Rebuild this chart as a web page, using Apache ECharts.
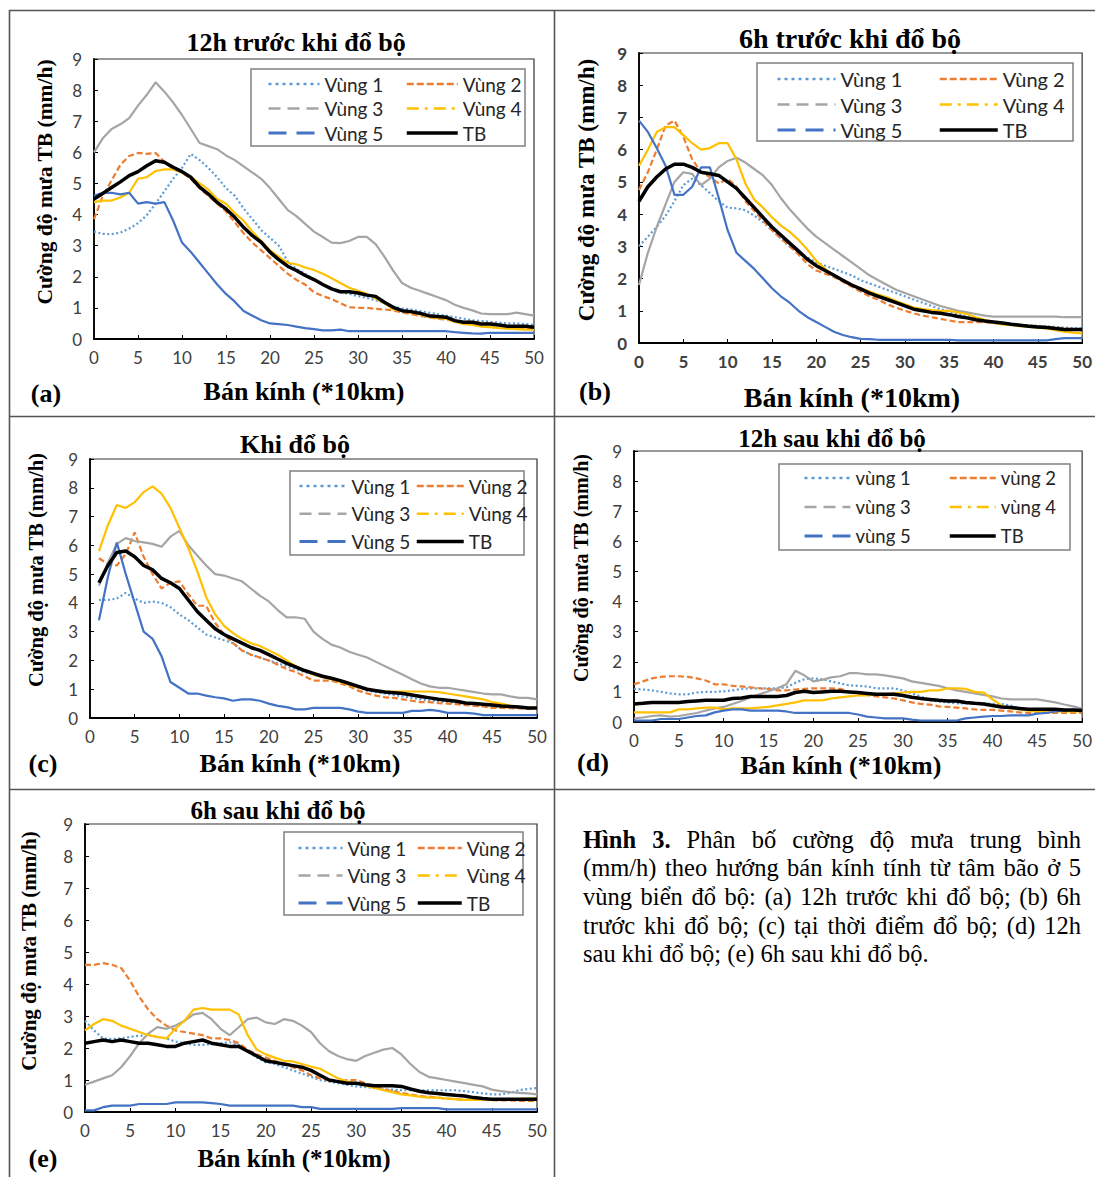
<!DOCTYPE html>
<html><head><meta charset="utf-8">
<script src="https://cdn.jsdelivr.net/npm/echarts@6/dist/echarts.min.js"></script>
<style>html,body{margin:0;padding:0;background:#fff}#c{width:1095px;height:1177px}</style>
</head><body><div id="c"></div><script>
// ---------------- DATA ----------------
const R_FULL = [0,1,2,3,4,5,6,7,8,9,10,11,12,13,14,15,16,17,18,19,20,21,22,23,24,25,26,27,28,29,30,31,32,33,34,35,36,37,38,39,40,41,42,43,44,45,46,47,48,49,50];
const R_C = [1,2,3,4,5,6,7,8,9,10,11,12,13,14,15,16,17,18,19,20,21,22,23,24,25,26,27,28,29,30,31,32,33,34,35,36,37,38,39,40,41,42,43,44,45,46,47,48,49,50];
const X_TICKS = [0,5,10,15,20,25,30,35,40,45,50];
const Y_TICKS = [0,1,2,3,4,5,6,7,8,9];
const NAMES_CAP = ['Vùng 1','Vùng 2','Vùng 3','Vùng 4','Vùng 5','TB'];
const NAMES_LOW = ['vùng 1','vùng 2','vùng 3','vùng 4','vùng 5','TB'];
const PANEL_TITLES = ['12h trước khi đổ bộ','6h trước khi đổ bộ','Khi đổ bộ','12h sau khi đổ bộ','6h sau khi đổ bộ'];
const PANEL_TAGS = ['(a)','(b)','(c)','(d)','(e)'];
const X_NAME = 'Bán kính (*10km)';
const Y_NAME = 'Cường độ mưa TB (mm/h)';

// (a) 12h trước khi đổ bộ
const A_V1 = [3.45,3.38,3.37,3.42,3.55,3.72,3.98,4.35,4.75,5.15,5.5,5.95,5.75,5.5,5.2,4.85,4.6,4.2,3.85,3.5,3.25,3.0,2.5,2.25,2.1,1.92,1.75,1.6,1.5,1.45,1.38,1.32,1.25,1.15,1.05,0.98,0.95,0.9,0.85,0.8,0.75,0.7,0.65,0.6,0.58,0.55,0.53,0.5,0.5,0.48,0.45];
const A_V2 = [3.85,4.6,5.1,5.6,5.88,5.98,5.95,5.98,5.7,5.45,5.35,5.15,4.85,4.6,4.35,4.1,3.75,3.4,3.1,2.85,2.6,2.35,2.1,1.9,1.75,1.5,1.38,1.28,1.15,1.02,1.0,1.0,0.97,0.95,0.92,0.85,0.8,0.75,0.7,0.65,0.62,0.58,0.55,0.55,0.52,0.5,0.48,0.4,0.35,0.33,0.32];
const A_V3 = [6.0,6.45,6.75,6.9,7.1,7.5,7.85,8.25,7.95,7.6,7.2,6.75,6.3,6.2,6.1,5.9,5.75,5.55,5.35,5.15,4.85,4.5,4.15,3.95,3.7,3.45,3.28,3.1,3.08,3.15,3.28,3.28,3.05,2.65,2.2,1.8,1.65,1.55,1.45,1.35,1.25,1.1,1.0,0.92,0.82,0.8,0.8,0.8,0.85,0.8,0.75];
const A_V4 = [4.4,4.45,4.45,4.55,4.7,5.15,5.2,5.4,5.45,5.45,5.35,5.2,5.0,4.8,4.5,4.35,4.05,3.8,3.45,3.15,2.85,2.65,2.45,2.4,2.3,2.22,2.1,1.95,1.8,1.65,1.55,1.45,1.3,1.15,0.95,0.9,0.85,0.8,0.72,0.68,0.65,0.55,0.48,0.45,0.4,0.38,0.35,0.33,0.32,0.3,0.3];
const A_V5 = [4.6,4.7,4.7,4.65,4.7,4.35,4.4,4.35,4.4,3.8,3.1,2.8,2.45,2.1,1.75,1.45,1.2,0.9,0.75,0.6,0.5,0.48,0.45,0.4,0.35,0.32,0.28,0.28,0.3,0.25,0.25,0.25,0.25,0.25,0.25,0.25,0.25,0.25,0.25,0.25,0.25,0.22,0.2,0.18,0.17,0.2,0.2,0.2,0.2,0.2,0.2];
const A_TB = [4.5,4.68,4.87,5.05,5.25,5.38,5.57,5.73,5.68,5.52,5.38,5.2,4.88,4.66,4.39,4.18,3.91,3.59,3.32,3.11,2.79,2.55,2.34,2.2,2.04,1.91,1.75,1.61,1.52,1.52,1.48,1.41,1.37,1.18,1.02,0.91,0.88,0.83,0.75,0.72,0.7,0.59,0.54,0.54,0.48,0.48,0.45,0.41,0.41,0.41,0.38];

// (b) 6h trước khi đổ bộ
const B_V1 = [3.0,3.3,3.6,3.95,4.4,4.9,5.1,4.9,4.65,4.4,4.2,4.18,4.12,3.95,3.75,3.5,3.25,3.0,2.8,2.65,2.5,2.4,2.3,2.2,2.1,1.95,1.85,1.75,1.65,1.55,1.45,1.35,1.25,1.15,1.05,0.98,0.9,0.82,0.75,0.7,0.65,0.6,0.58,0.56,0.55,0.53,0.52,0.5,0.48,0.46,0.45];
const B_V2 = [4.75,5.3,6.0,6.75,6.9,6.4,5.7,5.3,5.15,4.95,5.1,4.85,4.4,4.1,3.8,3.5,3.25,3.0,2.75,2.45,2.25,2.15,2.05,1.9,1.75,1.6,1.45,1.35,1.2,1.1,1.0,0.92,0.85,0.8,0.75,0.7,0.65,0.65,0.65,0.65,0.62,0.6,0.58,0.56,0.54,0.52,0.5,0.48,0.45,0.42,0.4];
const B_V3 = [1.8,2.8,3.6,4.3,5.0,5.3,5.25,4.9,5.1,5.45,5.65,5.75,5.6,5.4,5.2,4.9,4.5,4.15,3.85,3.55,3.3,3.1,2.9,2.7,2.5,2.3,2.1,1.95,1.8,1.65,1.55,1.45,1.35,1.25,1.15,1.08,1.0,0.95,0.9,0.85,0.82,0.82,0.82,0.82,0.82,0.82,0.82,0.82,0.8,0.8,0.8];
const B_V4 = [5.5,6.0,6.55,6.7,6.7,6.45,6.2,6.0,6.05,6.2,6.2,5.7,4.95,4.45,4.2,3.9,3.65,3.45,3.2,2.9,2.55,2.3,2.1,1.95,1.8,1.7,1.6,1.5,1.42,1.3,1.2,1.1,1.05,1.02,1.0,1.0,0.95,0.9,0.8,0.72,0.62,0.58,0.55,0.52,0.5,0.48,0.45,0.4,0.35,0.32,0.3];
const B_V5 = [6.9,6.55,6.05,5.5,4.6,4.6,4.85,5.45,5.45,4.5,3.5,2.8,2.55,2.3,2.0,1.7,1.45,1.25,1.0,0.8,0.65,0.5,0.35,0.25,0.18,0.13,0.12,0.1,0.1,0.1,0.1,0.1,0.1,0.1,0.1,0.1,0.08,0.08,0.08,0.08,0.08,0.08,0.08,0.08,0.08,0.08,0.08,0.12,0.15,0.15,0.15];
const B_TB = [4.4,4.85,5.15,5.4,5.55,5.55,5.45,5.3,5.25,5.2,5.0,4.8,4.5,4.2,3.9,3.6,3.35,3.1,2.85,2.6,2.4,2.25,2.1,1.95,1.8,1.68,1.55,1.45,1.35,1.25,1.15,1.05,1.0,0.95,0.92,0.88,0.82,0.78,0.72,0.68,0.65,0.62,0.58,0.55,0.52,0.5,0.48,0.45,0.42,0.42,0.42];

// (c) Khi đổ bộ (radius 1..50)
const C_V1 = [4.1,4.1,4.15,4.35,4.15,4.0,4.05,4.0,3.85,3.6,3.4,3.15,2.9,2.8,2.7,2.6,2.35,2.2,2.1,2.0,1.9,1.8,1.7,1.6,1.5,1.45,1.35,1.25,1.15,1.05,0.95,0.9,0.85,0.8,0.75,0.7,0.65,0.6,0.58,0.55,0.52,0.48,0.45,0.42,0.4,0.38,0.37,0.36,0.35,0.35];
const C_V2 = [5.55,5.35,5.3,5.7,6.45,5.6,5.0,4.5,4.7,4.75,4.3,3.9,3.9,3.3,2.9,2.6,2.35,2.2,2.1,2.0,1.85,1.7,1.6,1.45,1.3,1.3,1.3,1.2,1.1,0.95,0.85,0.78,0.72,0.7,0.65,0.6,0.55,0.55,0.52,0.5,0.48,0.45,0.42,0.4,0.35,0.35,0.34,0.33,0.32,0.32];
const C_V3 = [4.6,5.4,6.05,6.25,6.15,6.1,6.05,5.95,6.3,6.5,6.0,5.65,5.3,5.0,4.95,4.85,4.75,4.5,4.25,4.05,3.75,3.5,3.5,3.45,3.0,2.75,2.55,2.45,2.3,2.2,2.1,1.95,1.8,1.65,1.5,1.35,1.2,1.1,1.05,1.05,1.0,0.95,0.9,0.85,0.82,0.82,0.75,0.7,0.7,0.65];
const C_V4 = [5.8,6.7,7.4,7.3,7.5,7.85,8.05,7.8,7.3,6.6,5.9,5.1,4.2,3.6,3.2,2.95,2.75,2.6,2.5,2.35,2.2,2.0,1.8,1.65,1.5,1.42,1.35,1.25,1.15,1.05,1.0,0.95,0.92,0.92,0.92,0.92,0.92,0.92,0.9,0.85,0.8,0.75,0.7,0.65,0.55,0.5,0.42,0.38,0.35,0.35];
const C_V5 = [3.4,4.9,6.1,5.0,4.0,3.0,2.75,2.15,1.25,1.05,0.85,0.85,0.78,0.72,0.68,0.6,0.65,0.65,0.6,0.5,0.42,0.38,0.3,0.3,0.35,0.35,0.35,0.35,0.3,0.22,0.18,0.18,0.18,0.18,0.18,0.25,0.25,0.28,0.25,0.18,0.18,0.18,0.15,0.1,0.1,0.1,0.1,0.1,0.1,0.1];
const C_TB = [4.7,5.3,5.75,5.8,5.6,5.3,5.15,4.85,4.7,4.5,4.1,3.7,3.4,3.1,2.9,2.75,2.6,2.45,2.35,2.2,2.05,1.9,1.78,1.65,1.55,1.45,1.38,1.3,1.2,1.1,1.0,0.95,0.9,0.88,0.85,0.8,0.75,0.7,0.65,0.62,0.58,0.52,0.5,0.48,0.45,0.42,0.4,0.38,0.35,0.35];

// (d) 12h sau khi đổ bộ
const D_V1 = [1.1,1.08,1.05,1.0,0.95,0.92,0.92,0.98,1.0,1.0,1.02,1.05,1.1,1.12,1.12,1.12,1.12,1.15,1.3,1.42,1.45,1.42,1.35,1.28,1.22,1.2,1.18,1.12,1.12,1.12,1.05,0.95,0.85,0.72,0.68,0.65,0.62,0.62,0.62,0.62,0.6,0.6,0.55,0.45,0.42,0.4,0.4,0.4,0.39,0.38,0.38];
const D_V2 = [1.25,1.35,1.45,1.5,1.52,1.52,1.5,1.45,1.38,1.25,1.25,1.2,1.18,1.15,1.12,1.1,1.05,1.05,1.08,1.1,1.12,1.12,1.12,1.1,1.0,0.95,0.9,0.85,0.82,0.78,0.72,0.65,0.6,0.58,0.52,0.5,0.48,0.45,0.42,0.4,0.4,0.38,0.35,0.32,0.3,0.3,0.3,0.3,0.3,0.3,0.3];
const D_V3 = [0.12,0.15,0.2,0.22,0.18,0.2,0.25,0.3,0.38,0.45,0.5,0.6,0.7,0.82,0.92,1.02,1.12,1.25,1.7,1.55,1.35,1.4,1.48,1.52,1.62,1.62,1.58,1.58,1.55,1.5,1.45,1.35,1.3,1.25,1.2,1.12,1.05,1.0,0.95,0.9,0.85,0.78,0.75,0.75,0.75,0.75,0.7,0.65,0.58,0.52,0.45];
const D_V4 = [0.32,0.32,0.32,0.32,0.32,0.42,0.42,0.45,0.48,0.48,0.42,0.45,0.45,0.45,0.48,0.5,0.55,0.6,0.65,0.72,0.72,0.72,0.78,0.82,0.85,0.88,0.88,0.92,0.92,0.95,0.98,1.0,1.0,1.05,1.05,1.12,1.12,1.1,1.0,0.98,0.75,0.55,0.45,0.42,0.38,0.35,0.35,0.35,0.35,0.35,0.35];
const D_V5 = [0.05,0.05,0.05,0.1,0.1,0.1,0.15,0.2,0.22,0.32,0.38,0.42,0.42,0.38,0.38,0.38,0.38,0.35,0.3,0.3,0.3,0.3,0.3,0.3,0.3,0.25,0.18,0.15,0.12,0.12,0.12,0.08,0.05,0.05,0.05,0.05,0.05,0.12,0.15,0.18,0.2,0.2,0.22,0.22,0.22,0.28,0.3,0.35,0.38,0.4,0.4];
const D_TB = [0.6,0.62,0.65,0.65,0.65,0.65,0.68,0.7,0.72,0.72,0.72,0.78,0.8,0.85,0.85,0.85,0.85,0.88,0.98,1.02,0.98,1.0,1.02,1.02,1.0,0.98,0.95,0.92,0.92,0.92,0.88,0.82,0.78,0.75,0.72,0.7,0.7,0.65,0.62,0.6,0.55,0.5,0.48,0.45,0.42,0.42,0.42,0.42,0.4,0.4,0.38];

// (e) 6h sau khi đổ bộ
const E_V1 = [2.85,2.55,2.3,2.28,2.3,2.35,2.38,2.4,2.35,2.3,2.2,2.15,2.1,2.1,2.12,2.15,2.18,2.1,1.9,1.7,1.55,1.5,1.4,1.3,1.2,1.1,1.0,0.95,0.9,0.85,0.8,0.78,0.75,0.7,0.7,0.68,0.68,0.68,0.68,0.68,0.68,0.68,0.65,0.62,0.58,0.55,0.55,0.6,0.68,0.72,0.75];
const E_V2 = [4.6,4.6,4.65,4.6,4.5,4.1,3.6,3.2,2.9,2.7,2.55,2.5,2.45,2.4,2.3,2.3,2.25,2.15,1.95,1.8,1.7,1.6,1.5,1.4,1.3,1.15,1.05,1.0,0.95,1.0,1.0,0.9,0.8,0.72,0.65,0.6,0.55,0.5,0.48,0.45,0.42,0.4,0.38,0.38,0.38,0.37,0.36,0.36,0.35,0.35,0.35];
const E_V3 = [0.85,0.95,1.05,1.15,1.4,1.75,2.15,2.45,2.65,2.6,2.7,2.85,3.05,3.1,2.9,2.6,2.4,2.65,2.9,2.95,2.8,2.75,2.9,2.85,2.7,2.5,2.15,1.9,1.75,1.65,1.6,1.75,1.85,1.95,2.0,1.8,1.5,1.25,1.1,1.05,1.0,0.95,0.9,0.85,0.8,0.7,0.65,0.62,0.6,0.58,0.55];
const E_V4 = [2.55,2.75,2.9,2.85,2.7,2.6,2.5,2.4,2.35,2.3,2.6,2.85,3.2,3.25,3.2,3.2,3.2,3.05,2.4,1.95,1.8,1.7,1.6,1.58,1.5,1.42,1.35,1.2,1.05,0.95,0.9,0.82,0.75,0.68,0.62,0.55,0.52,0.48,0.45,0.45,0.42,0.4,0.38,0.38,0.38,0.38,0.4,0.4,0.4,0.42,0.42];
const E_V5 = [0.05,0.05,0.15,0.2,0.2,0.2,0.25,0.25,0.25,0.25,0.3,0.3,0.3,0.3,0.28,0.25,0.2,0.2,0.2,0.2,0.2,0.2,0.2,0.2,0.15,0.15,0.1,0.1,0.1,0.1,0.1,0.1,0.1,0.1,0.1,0.12,0.12,0.12,0.12,0.12,0.08,0.08,0.08,0.08,0.08,0.08,0.08,0.08,0.08,0.08,0.08];
const E_TB = [2.15,2.2,2.25,2.2,2.25,2.2,2.15,2.15,2.1,2.05,2.05,2.15,2.2,2.25,2.15,2.1,2.05,2.05,1.9,1.75,1.6,1.55,1.5,1.45,1.4,1.3,1.15,1.0,0.95,0.9,0.9,0.85,0.82,0.82,0.82,0.8,0.72,0.65,0.6,0.58,0.55,0.52,0.5,0.45,0.42,0.4,0.4,0.4,0.4,0.4,0.4];

const CAPTION_LINES = [
  [['Hình',true],['3.',true],['Phân',false],['bố',false],['cường',false],['độ',false],['mưa',false],['trung',false],['bình',false]],
  '(mm/h) theo hướng bán kính tính từ tâm bão ở 5',
  'vùng biển đổ bộ: (a) 12h trước khi đổ bộ; (b) 6h',
  'trước khi đổ bộ; (c) tại thời điểm đổ bộ; (d) 12h',
  'sau khi đổ bộ; (e) 6h sau khi đổ bộ.'
];

// ---------------- STYLES / LAYOUT ----------------
const SERIF = '"Liberation Serif","Times New Roman",serif';
const SANS = 'Lato, "Open Sans", sans-serif';
const PLOT_STYLE = [
  {color:'#5B9BD5', width:2.2, type:[2,2.5]},
  {color:'#ED7D31', width:2.2, type:[6,3]},
  {color:'#A5A5A5', width:2.2, type:'solid'},
  {color:'#FFC000', width:2.2, type:'solid'},
  {color:'#4472C4', width:2.2, type:'solid'},
  {color:'#000000', width:3.5, type:'solid'}
];
const LEG_STYLE = [
  {color:'#5B9BD5', width:2.5, type:[3,4]},
  {color:'#ED7D31', width:2.5, type:[7,3]},
  {color:'#A5A5A5', width:2.5, type:[12,7]},
  {color:'#FFC000', width:2.5, type:[12,6,3,6]},
  {color:'#4472C4', width:3, type:[18,10]},
  {color:'#000000', width:3.5, type:'solid'}
];

const PANELS = [
  {R:R_FULL, vals:[A_V1,A_V2,A_V3,A_V4,A_V5,A_TB], names:NAMES_CAP,
   grid:{left:94, top:59, width:440, height:280},
   title:[296,42,26], xname:[304,391,26], yname:[45,182,21.5], tag:[46,393],
   leg:{box:[251,69,274,77], c1:267, c2:405, r1:84, dy:24.5, iw:51, fs:19}, tfs:17, tbold:false},
  {R:R_FULL, vals:[B_V1,B_V2,B_V3,B_V4,B_V5,B_TB], names:NAMES_CAP,
   grid:{left:639, top:53, width:445, height:290},
   title:[850,38,28], xname:[852,397,28], yname:[586,190,23], tag:[595,391],
   leg:{box:[757,63,316,78], c1:776, c2:938, r1:79, dy:25.5, iw:58, fs:20}, tfs:17, tbold:true},
  {R:R_C, vals:[C_V1,C_V2,C_V3,C_V4,C_V5,C_TB], names:NAMES_CAP,
   grid:{left:90, top:459, width:447, height:259},
   title:[295,444,26], xname:[300,763,26], yname:[36,570,20.5], tag:[43,763],
   leg:{box:[290,471,234,84], c1:298, c2:415, r1:486, dy:27.8, iw:47, fs:19}, tfs:17, tbold:false},
  {R:R_FULL, vals:[D_V1,D_V2,D_V3,D_V4,D_V5,D_TB], names:NAMES_LOW,
   grid:{left:634, top:451, width:450, height:271},
   title:[832,438,25], xname:[841,765,26], yname:[581,568,20], tag:[593,762],
   leg:{box:[779,464,291,86], c1:803, c2:948, r1:478, dy:29, iw:46, fs:18.5}, tfs:17, tbold:false},
  {R:R_FULL, vals:[E_V1,E_V2,E_V3,E_V4,E_V5,E_TB], names:NAMES_CAP,
   grid:{left:85, top:824, width:452, height:288},
   title:[278,810,25], xname:[294,1158,25], yname:[29,951,21], tag:[43,1158],
   leg:{box:[284,832,239,83], c1:297, c2:416, r1:848, dy:27.5, iw:44, fs:19}, tfs:17, tbold:false}
];

const grids = [], xAxes = [], yAxes = [], series = [], legends = [], graphics = [];
const ROWH = 20;

PANELS.forEach((p, i) => {
  grids.push(Object.assign({show:true, borderColor:'#333', borderWidth:1.2, backgroundColor:'transparent'}, p.grid));
  const lab = {fontFamily:SANS, fontSize:p.tfs, color:'#404040', fontWeight:p.tbold?'bold':'normal'};
  xAxes.push({gridIndex:i, type:'value', min:X_TICKS[0], max:X_TICKS[X_TICKS.length-1], interval:X_TICKS[1]-X_TICKS[0],
    axisLine:{show:true, onZero:false, lineStyle:{color:'#000', width:1.8}},
    axisTick:{show:true, inside:true, length:4, lineStyle:{color:'#000'}},
    axisLabel:Object.assign({margin:10}, lab), splitLine:{show:false}});
  yAxes.push({gridIndex:i, type:'value', min:Y_TICKS[0], max:Y_TICKS[Y_TICKS.length-1], interval:Y_TICKS[1]-Y_TICKS[0],
    axisLine:{show:true, onZero:false, lineStyle:{color:'#000', width:1.8}},
    axisTick:{show:true, inside:true, length:4, lineStyle:{color:'#000'}},
    axisLabel:Object.assign({margin:12}, lab), splitLine:{show:false}});
  p.vals.forEach((v, k) => {
    series.push({type:'line', name:p.names[k], xAxisIndex:i, yAxisIndex:i, symbol:'none', silent:true,
      z: k===5 ? 4 : 2,
      lineStyle:Object.assign({}, PLOT_STYLE[k]),
      data:p.R.map((r, j) => [r, v[j]])});
  });
  const L = p.leg;
  const mkLeg = (idxs, left) => ({
    orient:'vertical', left:left, top:L.r1 - ROWH/2, padding:0, itemWidth:L.iw, itemHeight:12,
    itemGap:L.dy - ROWH, selectedMode:false, z:6,
    textStyle:{fontFamily:SANS, fontSize:L.fs, color:'#262626', lineHeight:ROWH},
    data:idxs.map(k => ({name:p.names[k], lineStyle:Object.assign({}, LEG_STYLE[k]),
      itemStyle:{color:'rgba(0,0,0,0)', borderWidth:0, opacity:0}}))
  });
  legends.push(mkLeg([0,2,4], L.c1));
  legends.push(mkLeg([1,3,5], L.c2));
  graphics.push({type:'rect', z:5, shape:{x:L.box[0], y:L.box[1], width:L.box[2], height:L.box[3]},
    style:{fill:'#fff', stroke:'#808080', lineWidth:1.5}});
  graphics.push({type:'text', z:10, x:p.title[0], y:p.title[1],
    style:{text:PANEL_TITLES[i], font:'bold '+p.title[2]+'px '+SERIF, fill:'#000', align:'center', verticalAlign:'middle'}});
  graphics.push({type:'text', z:10, x:p.xname[0], y:p.xname[1],
    style:{text:X_NAME, font:'bold '+p.xname[2]+'px '+SERIF, fill:'#000', align:'center', verticalAlign:'middle'}});
  graphics.push({type:'text', z:10, x:p.yname[0], y:p.yname[1], rotation:Math.PI/2,
    style:{text:Y_NAME, font:'bold '+p.yname[2]+'px '+SERIF, fill:'#000', align:'center', verticalAlign:'middle'}});
  graphics.push({type:'text', z:10, x:p.tag[0], y:p.tag[1],
    style:{text:PANEL_TAGS[i], font:'bold 26px '+SERIF, fill:'#000', align:'center', verticalAlign:'middle'}});
});

// frame lines
const FRAME = '#555';
[[9,10.5,1095,10.5],[9.5,10,9.5,1177],[554.5,10,554.5,1177],[9,416.5,1095,416.5],[9,789.5,1095,789.5]].forEach(s => {
  graphics.push({type:'line', z:10, shape:{x1:s[0], y1:s[1], x2:s[2], y2:s[3]}, style:{stroke:FRAME, lineWidth:1.6}});
});

// caption (justified)
const CAP_FS = 24.5, CAP_X0 = 583, CAP_X1 = 1081, CAP_Y = [839,867,896,925,953];
const mctx = document.createElement('canvas').getContext('2d');
const fontOf = b => (b ? 'bold ' : '') + CAP_FS + 'px ' + SERIF;
const measure = (t, b) => { mctx.font = fontOf(b); return mctx.measureText(t).width; };
CAPTION_LINES.forEach((line, li) => {
  const words = typeof line === 'string' ? line.split(' ').map(w => [w, false]) : line;
  const widths = words.map(w => measure(w[0], w[1]));
  const total = widths.reduce((a, b) => a + b, 0);
  const last = li === CAPTION_LINES.length - 1;
  const gap = last ? measure(' ', false) : (CAP_X1 - CAP_X0 - total) / (words.length - 1);
  let x = CAP_X0;
  words.forEach((w, k) => {
    graphics.push({type:'text', z:10, x:x, y:CAP_Y[li],
      style:{text:w[0], font:fontOf(w[1]), fill:'#000', align:'left', verticalAlign:'middle'}});
    x += widths[k] + gap;
  });
});

const chart = echarts.init(document.getElementById('c'), null, {renderer:'svg'});
chart.setOption({
  animation:false, backgroundColor:'#fff',
  grid:grids, xAxis:xAxes, yAxis:yAxes, series:series, legend:legends, graphic:graphics
});
</script></body></html>
